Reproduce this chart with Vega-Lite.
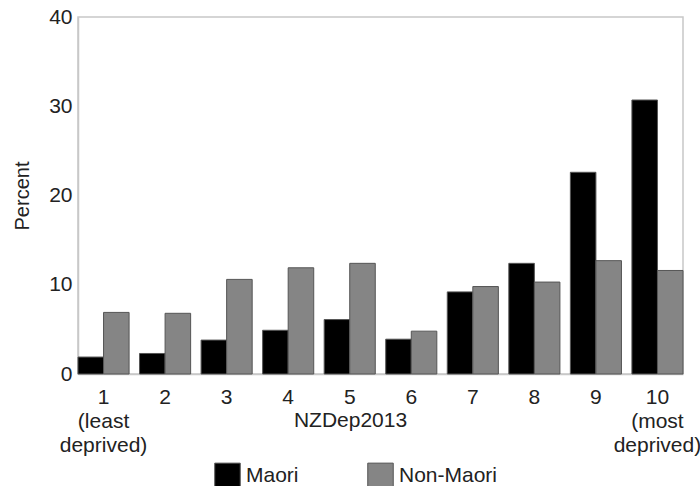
{
  "$schema": "https://vega.github.io/schema/vega-lite/v6.json",
  "autosize": "none",
  "width": 605,
  "height": 357,
  "padding": {"left": 78, "top": 17, "right": 17, "bottom": 112},
  "background": "white",
  "config": {
    "font": "Liberation Sans",
    "view": {"stroke": "#c8c8c8", "strokeWidth": 1.5}
  },
  "data": {
    "values": [
      {"dep": "1", "group": "Maori", "percent": 1.9},
      {"dep": "1", "group": "Non-Maori", "percent": 6.9},
      {"dep": "2", "group": "Maori", "percent": 2.3},
      {"dep": "2", "group": "Non-Maori", "percent": 6.8},
      {"dep": "3", "group": "Maori", "percent": 3.8},
      {"dep": "3", "group": "Non-Maori", "percent": 10.6},
      {"dep": "4", "group": "Maori", "percent": 4.9},
      {"dep": "4", "group": "Non-Maori", "percent": 11.9},
      {"dep": "5", "group": "Maori", "percent": 6.1},
      {"dep": "5", "group": "Non-Maori", "percent": 12.4},
      {"dep": "6", "group": "Maori", "percent": 3.9},
      {"dep": "6", "group": "Non-Maori", "percent": 4.8},
      {"dep": "7", "group": "Maori", "percent": 9.2},
      {"dep": "7", "group": "Non-Maori", "percent": 9.8},
      {"dep": "8", "group": "Maori", "percent": 12.4},
      {"dep": "8", "group": "Non-Maori", "percent": 10.3},
      {"dep": "9", "group": "Maori", "percent": 22.6},
      {"dep": "9", "group": "Non-Maori", "percent": 12.7},
      {"dep": "10", "group": "Maori", "percent": 30.7},
      {"dep": "10", "group": "Non-Maori", "percent": 11.6}
    ]
  },
  "mark": {"type": "bar", "stroke": "#555555", "strokeWidth": 1},
  "encoding": {
    "x": {
      "field": "dep",
      "type": "nominal",
      "sort": ["1", "2", "3", "4", "5", "6", "7", "8", "9", "10"],
      "scale": {"paddingInner": 0.17, "paddingOuter": 0},
      "axis": {
        "title": "NZDep2013",
        "titleFontSize": 21,
        "titleFontWeight": "normal",
        "titleColor": "#222",
        "titleX": 272,
        "titleY": 46,
        "titleBaseline": "middle",
        "titleAnchor": null,
        "titleAlign": "center",
        "labelAngle": 0,
        "labelFontSize": 21,
        "labelColor": "#222",
        "labelLineHeight": 24,
        "labelPadding": 23,
        "labelBaseline": "middle",
        "labelExpr": "datum.value == '1' ? ['1', '(least', 'deprived)'] : datum.value == '10' ? ['10', '(most', 'deprived)'] : datum.value",
        "ticks": false,
        "domainColor": "#c8c8c8",
        "domainWidth": 1.5
      }
    },
    "xOffset": {"field": "group", "type": "nominal", "scale": {"paddingInner": 0, "paddingOuter": 0}},
    "y": {
      "field": "percent",
      "type": "quantitative",
      "scale": {"domain": [0, 40]},
      "axis": {
        "title": "Percent",
        "titleFontSize": 20,
        "titleFontWeight": "normal",
        "titleColor": "#222",
        "titlePadding": 16,
        "values": [0, 10, 20, 30, 40],
        "labelFontSize": 21,
        "labelColor": "#222",
        "labelPadding": 6,
        "ticks": false,
        "grid": false,
        "domainColor": "#c8c8c8",
        "domainWidth": 1.5
      }
    },
    "color": {
      "field": "group",
      "type": "nominal",
      "scale": {"domain": ["Maori", "Non-Maori"], "range": ["#000000", "#858585"]},
      "legend": {
        "title": null,
        "orient": "none",
        "legendX": 136,
        "legendY": 445,
        "direction": "horizontal",
        "columns": 2,
        "columnPadding": 66,
        "symbolType": "square",
        "symbolSize": 650,
        "symbolStrokeColor": "#555555",
        "symbolStrokeWidth": 1,
        "labelFontSize": 21,
        "labelColor": "#222",
        "labelOffset": 5
      }
    }
  }
}
